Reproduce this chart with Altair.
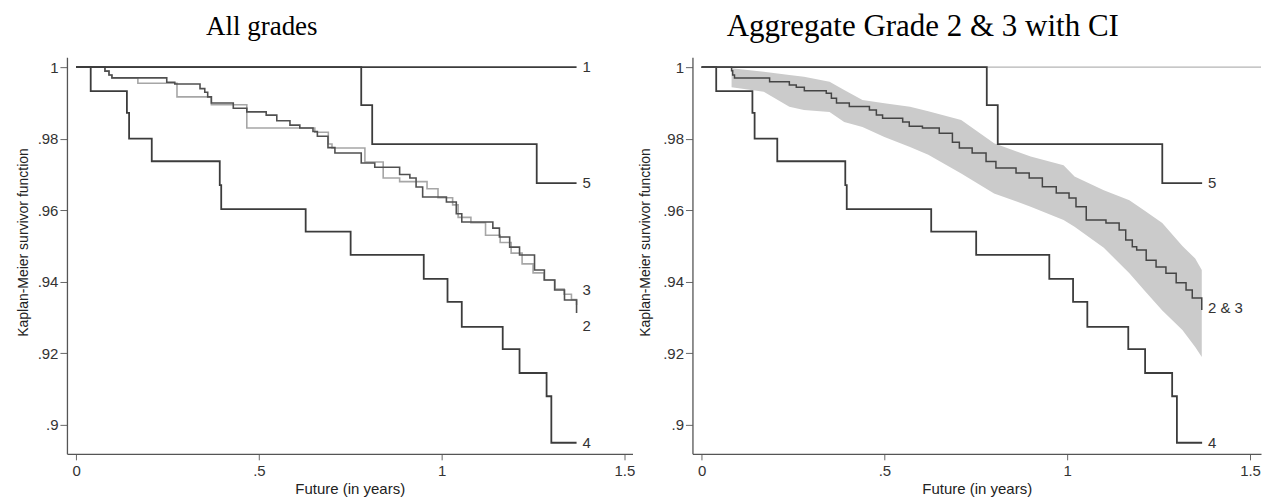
import altair as alt
import pandas as pd

# ---- Kaplan-Meier step data ----
g1_t = [0.0, 1.369]
g1_s = [1.0, 1.0]

g5_t = [0.0, 0.78, 0.81, 1.26, 1.369]
g5_s = [1.0, 0.9894, 0.9785, 0.9676, 0.9676]

g4_t = [0.0, 0.04, 0.139, 0.145, 0.207, 0.393, 0.397, 0.628, 0.751, 0.951,
        1.016, 1.055, 1.167, 1.213, 1.287, 1.30, 1.369]
g4_s = [1.0, 0.9933, 0.9872, 0.980, 0.9737, 0.967, 0.9603, 0.954, 0.9475, 0.9408,
        0.9344, 0.9274, 0.9212, 0.9145, 0.908, 0.895, 0.895]

g3_t = [0.0, 0.079, 0.09, 0.098, 0.248, 0.27, 0.339, 0.352, 0.36, 0.37, 0.43,
        0.467, 0.52, 0.549, 0.585, 0.612, 0.648, 0.66, 0.689, 0.708, 0.78, 0.817,
        0.885, 0.913, 0.93, 0.948, 1.013, 1.04, 1.055, 1.14, 1.158, 1.186, 1.213,
        1.254, 1.281, 1.309, 1.336, 1.369]
g3_s = [1.0, 0.9989, 0.9978, 0.997, 0.9958, 0.9953, 0.994, 0.993, 0.9917, 0.990, 0.9885,
        0.9875, 0.9866, 0.985, 0.9838, 0.983, 0.982, 0.9807, 0.9775, 0.976, 0.9732, 0.972,
        0.970, 0.969, 0.9665, 0.9637, 0.9623, 0.959, 0.9567, 0.955, 0.9525, 0.9497, 0.9475,
        0.9433, 0.9405, 0.9377, 0.9349, 0.9313]

g2_t = [0.0, 0.079, 0.09, 0.098, 0.169, 0.276, 0.37, 0.467, 0.653, 0.69, 0.70,
        0.79, 0.84, 0.885, 0.96, 0.99, 1.03, 1.045, 1.08, 1.12, 1.16, 1.19, 1.22,
        1.25, 1.28, 1.31, 1.335, 1.355, 1.369]
g2_s = [1.0, 0.9989, 0.9978, 0.997, 0.9955, 0.9917, 0.9895, 0.983, 0.9818, 0.9785, 0.9774,
        0.9735, 0.969, 0.968, 0.966, 0.9635, 0.9615, 0.958, 0.9565, 0.953, 0.951, 0.948, 0.945,
        0.9425, 0.9405, 0.938, 0.9365, 0.935, 0.9335]

g23_t = [0.0, 0.082, 0.085, 0.09, 0.186, 0.24, 0.259, 0.281, 0.341, 0.355, 0.369, 0.404,
         0.459, 0.478, 0.495, 0.55, 0.568, 0.604, 0.65, 0.686, 0.705, 0.74, 0.778, 0.805,
         0.86, 0.896, 0.932, 0.97, 1.005, 1.024, 1.052, 1.106, 1.142, 1.16, 1.178, 1.19,
         1.216, 1.243, 1.27, 1.298, 1.325, 1.342, 1.368]
g23_s = [1.0, 0.999, 0.9978, 0.997, 0.9959, 0.995, 0.9944, 0.9934, 0.9927, 0.9913, 0.990, 0.989,
         0.988, 0.9866, 0.9857, 0.9847, 0.9835, 0.983, 0.9815, 0.979, 0.9774, 0.976, 0.9736, 0.9718,
         0.9704, 0.969, 0.9666, 0.9648, 0.9634, 0.961, 0.9573, 0.9564, 0.9545, 0.9517, 0.9498, 0.9489,
         0.946, 0.9441, 0.9424, 0.9397, 0.9377, 0.9355, 0.9321]

ci_t = [0.082, 0.17, 0.24, 0.28, 0.35, 0.39, 0.44, 0.50, 0.57, 0.62, 0.71, 0.80,
        0.90, 0.99, 1.02, 1.10, 1.17, 1.21, 1.26, 1.315, 1.35, 1.368]
ci_hi = [0.9997, 0.9987, 0.9978, 0.9973, 0.9959, 0.9936, 0.9908, 0.9899, 0.9889, 0.9877, 0.9852,
         0.9787, 0.975, 0.9726, 0.9694, 0.9656, 0.9628, 0.960, 0.9564, 0.950, 0.9465, 0.9433]
ci_lo = [0.9944, 0.9931, 0.9889, 0.988, 0.9875, 0.9847, 0.9833, 0.9805, 0.9777, 0.9755, 0.9703,
         0.9647, 0.961, 0.9573, 0.9554, 0.9495, 0.9424, 0.9377, 0.932, 0.9265, 0.9218, 0.919]

left_labels = ["1", "5", "3", "2", "4"]
left_label_y = [1.0, 0.9676, 0.9377, 0.9277, 0.895]
right_labels = ["5", "2 & 3", "4"]
right_label_y = [0.9676, 0.9327, 0.895]
label_x = 1.385

x_ticks = [0, 0.5, 1, 1.5]
y_ticks = [0.9, 0.92, 0.94, 0.96, 0.98, 1.0]

DARK = "#3c3c3c"
LIGHT = "#a6a6a6"
FONT = "Liberation Sans"
LABEL_EXPR = ("datum.value >= 1 ? format(datum.value, '~g') : "
              "(datum.value > 0 ? substring(format(datum.value, '~g'), 1) : '0')")

Y_DOMAIN = [0.8919, 1.0028]


def xscale(hi):
    return alt.Scale(domain=[-0.025, hi], nice=False, zero=False)


yscale = alt.Scale(domain=Y_DOMAIN, nice=False, zero=False)


def xaxis():
    return alt.Axis(values=x_ticks, labelExpr=LABEL_EXPR, grid=False, tickSize=6,
                    labelPadding=4, labelFont=FONT, labelFontSize=15, labelColor="#333",
                    domainColor="#555", domainWidth=1.3, tickColor="#666",
                    title="Future (in years)", titleFont=FONT, titleFontSize=15,
                    titleFontWeight="normal", titleColor="#222", titleY=40,
                    titleBaseline="alphabetic")


def yaxis(tx):
    return alt.Axis(values=y_ticks, labelExpr=LABEL_EXPR, grid=False, tickSize=7,
                    labelPadding=2, labelFont=FONT, labelFontSize=15, labelColor="#333",
                    domainColor="#555", domainWidth=1.3, tickColor="#666",
                    title="Kaplan-Meier survivor function", titleFont=FONT,
                    titleFontSize=14, titleFontWeight="normal", titleColor="#222",
                    titleX=tx, titleY=185, titleAngle=-90, titleBaseline="alphabetic",
                    titleAlign="center")


def step_line(t, s, xhi, color, width, tx, axes=False):
    df = pd.DataFrame({"t": t, "s": s})
    if axes:
        x = alt.X("t:Q", scale=xscale(xhi), axis=xaxis())
        y = alt.Y("s:Q", scale=yscale, axis=yaxis(tx))
    else:
        x = alt.X("t:Q", scale=xscale(xhi))
        y = alt.Y("s:Q", scale=yscale)
    return alt.Chart(df).mark_line(interpolate="step-after", color=color,
                                   strokeWidth=width, clip=True).encode(x=x, y=y)


def labels(texts, ys):
    df = pd.DataFrame({"label": texts, "y": ys, "x": [label_x] * len(texts)})
    return alt.Chart(df).mark_text(align="left", baseline="middle", font=FONT,
                                   fontSize=15, color="#333").encode(
        x="x:Q", y="y:Q", text="label:N")


# ---- left panel ----
LX = 1.522
left = alt.layer(
    step_line(g2_t, g2_s, LX, LIGHT, 1.6, -39, axes=True),
    step_line(g3_t, g3_s, LX, "#505050", 1.6, -39),
    step_line(g1_t, g1_s, LX, DARK, 1.8, -39),
    step_line(g5_t, g5_s, LX, DARK, 1.8, -39),
    step_line(g4_t, g4_s, LX, DARK, 1.8, -39),
    labels(left_labels, left_label_y),
).properties(
    width=566, height=397,
    title=alt.TitleParams("All grades", font="Liberation Serif", fontSize=27,
                          fontWeight="normal", color="black", anchor="middle",
                          frame="group", dx=-88, offset=-5, baseline="alphabetic"),
)

# ---- right panel ----
RX = 1.53
ref_df = pd.DataFrame({"x": [0.0], "x2": [RX], "y": [1.0]})
ref_line = alt.Chart(ref_df).mark_rule(color="#b4b4b4", strokeWidth=1.2).encode(
    x=alt.X("x:Q", scale=xscale(RX), axis=xaxis()), x2="x2:Q",
    y=alt.Y("y:Q", scale=yscale, axis=yaxis(-43)))

band_df = pd.DataFrame({"t": ci_t, "lo": ci_lo, "hi": ci_hi})
band = alt.Chart(band_df).mark_area(color="#cbcbcb", opacity=1).encode(
    x=alt.X("t:Q", scale=xscale(RX)),
    y=alt.Y("lo:Q", scale=yscale),
    y2="hi:Q")

right = alt.layer(
    ref_line,
    band,
    step_line(g5_t, g5_s, RX, DARK, 1.8, -43),
    step_line(g4_t, g4_s, RX, DARK, 1.8, -43),
    step_line(g23_t, g23_s, RX, "#454545", 1.5, -43),
    labels(right_labels, right_label_y),
).properties(
    width=569, height=397,
    title=alt.TitleParams("Aggregate Grade 2 & 3 with CI", font="Liberation Serif",
                          fontSize=31, fontWeight="normal", color="black",
                          anchor="middle", frame="group", dx=-54, offset=-10,
                          baseline="alphabetic"),
)

chart = alt.hconcat(left, right, spacing=60, bounds="flush").properties(
    padding={"left": 17, "top": 11, "right": 0, "bottom": 0},
    background="white",
).configure_view(stroke=None)

chart.save("out.html", embed_options={"renderer": "svg", "actions": False})
